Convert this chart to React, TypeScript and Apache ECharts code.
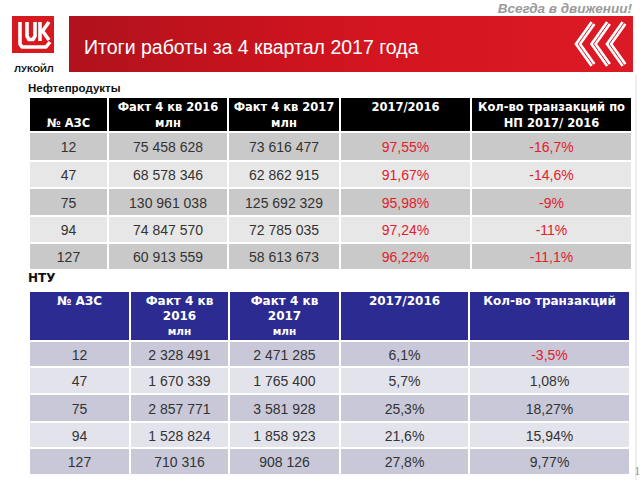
import React, { useEffect, useRef } from "react";
import * as echarts from "echarts";

// ---------- data ----------
const stations = [12, 47, 75, 94, 127];

const npFact2016 = [75458628, 68578346, 130961038, 74847570, 60913559];
const npFact2017 = [73616477, 62862915, 125692329, 72785035, 58613673];
const npRatio = [97.55, 91.67, 95.98, 97.24, 96.22];
const npTrans = [-16.7, -14.6, -9, -11, -11.1];

const ntFact2016 = [2328491, 1670339, 2857771, 1528824, 710316];
const ntFact2017 = [2471285, 1765400, 3581928, 1858923, 908126];
const ntRatio = [6.1, 5.7, 25.3, 21.6, 27.8];
const ntTrans = [-3.5, 1.08, 18.27, 15.94, 9.77];

const npHeaders = [
  ["", "№ АЗС"],
  ["Факт 4 кв 2016", "млн"],
  ["Факт 4 кв 2017", "млн"],
  ["2017/2016"],
  ["Кол-во транзакций по", "НП 2017/ 2016"],
];
const ntHeaders = [
  ["№ АЗС"],
  ["Факт 4 кв", "2016", "млн"],
  ["Факт 4 кв", "2017", "млн"],
  ["2017/2016"],
  ["Кол-во транзакций"],
];

// ---------- formatting ----------
const fmtInt = (v: number) => String(v).replace(/\B(?=(\d{3})+(?!\d))/g, " ");
const fmtPct = (v: number) => String(v).replace(".", ",") + "%";

// ---------- layout ----------
const t1Cols = [0, 79, 199, 311, 442, 603];
const t1Rows = [0, 35, 64, 91, 119, 146, 173];
const t2Cols = [0, 101, 200, 311, 440, 601];
const t2Rows = [0, 50, 76, 103, 131, 157, 184];

type Cell = { c: number; r: number; lines: string[]; red: boolean };

function buildCells(
  headers: string[][],
  cols: string[][],
  redFn: (c: number, r: number) => boolean
): Cell[] {
  const cells: Cell[] = [];
  headers.forEach((h, c) => cells.push({ c, r: 0, lines: h, red: false }));
  for (let r = 0; r < stations.length; r++) {
    for (let c = 0; c < cols.length; c++) {
      cells.push({ c, r: r + 1, lines: [cols[c][r]], red: redFn(c, r) });
    }
  }
  return cells;
}

const t1Cells = buildCells(
  npHeaders,
  [
    stations.map(String),
    npFact2016.map(fmtInt),
    npFact2017.map(fmtInt),
    npRatio.map(fmtPct),
    npTrans.map(fmtPct),
  ],
  (c) => c >= 3
);
const t2Cells = buildCells(
  ntHeaders,
  [
    stations.map(String),
    ntFact2016.map(fmtInt),
    ntFact2017.map(fmtInt),
    ntRatio.map(fmtPct),
    ntTrans.map(fmtPct),
  ],
  (c, r) => c === 4 && ntTrans[r] < 0
);

function makeRender(
  cells: Cell[],
  cols: number[],
  rows: number[],
  headFill: string,
  oddFill: string,
  evenFill: string,
  headLineGap: number,
  headSize: number,
  smallSize: number
) {
  return (params: any, api: any) => {
    const cell = cells[params.dataIndex];
    const p0 = api.coord([cols[cell.c], rows[cell.r]]);
    const p1 = api.coord([cols[cell.c + 1], rows[cell.r + 1]]);
    const x = p0[0];
    const y = Math.min(p0[1], p1[1]);
    const w = p1[0] - p0[0];
    const h = Math.abs(p1[1] - p0[1]);
    const fill = cell.r === 0 ? headFill : cell.r % 2 === 1 ? oddFill : evenFill;
    const children: any[] = [
      {
        type: "rect",
        shape: { x: x + 1, y: y + 1, width: w - 2, height: h - 2 },
        style: { fill },
      },
    ];
    if (cell.r === 0) {
      cell.lines.forEach((ln, i) => {
        children.push({
          type: "text",
          style: {
            text: ln,
            x: x + w / 2,
            y: y + 10 + i * headLineGap,
            align: "center",
            verticalAlign: "middle",
            fill: "#ffffff",
            fontFamily: "DejaVu Sans",
            fontWeight: "bold",
            fontSize: ln === "млн" ? smallSize : headSize,
          },
        });
      });
    } else {
      children.push({
        type: "text",
        style: {
          text: cell.lines[0],
          x: x + w / 2,
          y: y + h / 2 + 0.5,
          align: "center",
          verticalAlign: "middle",
          fill: cell.red ? "#e3202c" : "#333333",
          fontFamily: "Liberation Sans",
          fontSize: 14,
        },
      });
    }
    return { type: "group", children };
  };
}

export default function App() {
  const ref = useRef<HTMLDivElement>(null);
  useEffect(() => {
    if (!ref.current) return;
    const chart = echarts.init(ref.current, null, { renderer: "svg" });

    const chev = (i: number) => {
      const tx = 578 + i * 15.5;
      return [
        [tx + 15, 23],
        [tx, 44],
        [tx + 15, 65],
      ];
    };
    const white = { stroke: "#ffffff", lineWidth: 3.6, fill: "none", lineJoin: "round", lineCap: "butt" };

    chart.setOption({
      animation: false,
      backgroundColor: "#ffffff",
      grid: [
        { left: 29, top: 97, width: 603, height: 173 },
        { left: 29, top: 291, width: 601, height: 184 },
      ],
      xAxis: [
        { gridIndex: 0, type: "value", min: 0, max: 603, show: false },
        { gridIndex: 1, type: "value", min: 0, max: 601, show: false },
      ],
      yAxis: [
        { gridIndex: 0, type: "value", min: 0, max: 173, inverse: true, show: false },
        { gridIndex: 1, type: "value", min: 0, max: 184, inverse: true, show: false },
      ],
      series: [
        {
          type: "custom",
          xAxisIndex: 0,
          yAxisIndex: 0,
          clip: false,
          data: t1Cells.map((c) => [c.c, c.r]),
          renderItem: makeRender(t1Cells, t1Cols, t1Rows, "#000000", "#c9c9c9", "#e7e7e7", 16, 11.5, 11.5),
        },
        {
          type: "custom",
          xAxisIndex: 1,
          yAxisIndex: 1,
          clip: false,
          data: t2Cells.map((c) => [c.c, c.r]),
          renderItem: makeRender(t2Cells, t2Cols, t2Rows, "#2b2b92", "#c8c8d8", "#e3e3ec", 15, 12, 10.5),
        },
      ],
      graphic: [
        // slide right border
        { type: "line", shape: { x1: 636, y1: 75, x2: 636, y2: 480 }, style: { stroke: "#dddddd", lineWidth: 1 } },
        // tagline
        {
          type: "text",
          style: {
            text: "Всегда в движении!",
            x: 632,
            y: 8,
            align: "right",
            verticalAlign: "middle",
            fill: "#9a9a9a",
            fontFamily: "Liberation Sans",
            fontStyle: "italic",
            fontWeight: "bold",
            fontSize: 13.5,
          },
        },
        // banner
        {
          type: "rect",
          shape: { x: 69, y: 16, width: 564, height: 56 },
          style: {
            fill: new echarts.graphic.LinearGradient(0, 0, 1, 0, [
              { offset: 0, color: "#b0121c" },
              { offset: 0.45, color: "#d0141f" },
              { offset: 1, color: "#dc1a25" },
            ]),
          },
        },
        {
          type: "text",
          style: {
            text: "Итоги работы за 4 квартал 2017 года",
            x: 84,
            y: 47,
            verticalAlign: "middle",
            fill: "#ffffff",
            fontFamily: "Liberation Sans",
            fontSize: 19.5,
          },
        },
        // chevrons
        ...[0, 1, 2].map((i) => ({
          type: "polyline",
          shape: { points: chev(i) },
          style: { stroke: "#ffffff", lineWidth: 6, fill: "none", lineJoin: "miter" },
        })),
        ...[0, 1, 2].map((i) => ({
          type: "polyline",
          shape: { points: chev(i) },
          style: { stroke: "#d8202a", lineWidth: 1, fill: "none" },
        })),
        // logo
        { type: "rect", shape: { x: 12, y: 16, width: 42, height: 37 }, style: { fill: "#d71920" } },
        {
          type: "polyline",
          shape: { points: [[20, 22], [20, 44], [22, 47], [46, 47], [50, 42]] },
          style: white,
        },
        {
          type: "polyline",
          shape: { points: [[27, 22], [27, 36], [29, 39.5], [33, 39.5], [35, 36], [35, 22]] },
          style: white,
        },
        { type: "line", shape: { x1: 40, y1: 22, x2: 40, y2: 41 }, style: white },
        {
          type: "polyline",
          shape: { points: [[49, 22], [42.5, 31], [49, 40]] },
          style: white,
        },
        {
          type: "text",
          style: {
            text: "ЛУКОЙЛ",
            x: 34,
            y: 68,
            align: "center",
            verticalAlign: "middle",
            fill: "#111111",
            fontFamily: "Liberation Sans",
            fontWeight: "bold",
            fontSize: 9.5,
          },
        },
        // section titles
        {
          type: "text",
          style: {
            text: "Нефтепродукты",
            x: 28,
            y: 88,
            verticalAlign: "middle",
            fill: "#111111",
            fontFamily: "Liberation Sans",
            fontWeight: "bold",
            fontSize: 11.5,
          },
        },
        {
          type: "text",
          style: {
            text: "НТУ",
            x: 28,
            y: 278,
            verticalAlign: "middle",
            fill: "#111111",
            fontFamily: "DejaVu Sans",
            fontWeight: "bold",
            fontSize: 12,
          },
        },
        {
          type: "text",
          style: {
            text: "1",
            x: 634,
            y: 470,
            verticalAlign: "middle",
            fill: "#999999",
            fontFamily: "Liberation Serif",
            fontSize: 13,
          },
        },
      ],
    });
    return () => chart.dispose();
  }, []);
  return (
    <div
      ref={ref}
      style={{ position: "fixed", left: 0, top: 0, width: 640, height: 480 }}
    />
  );
}
